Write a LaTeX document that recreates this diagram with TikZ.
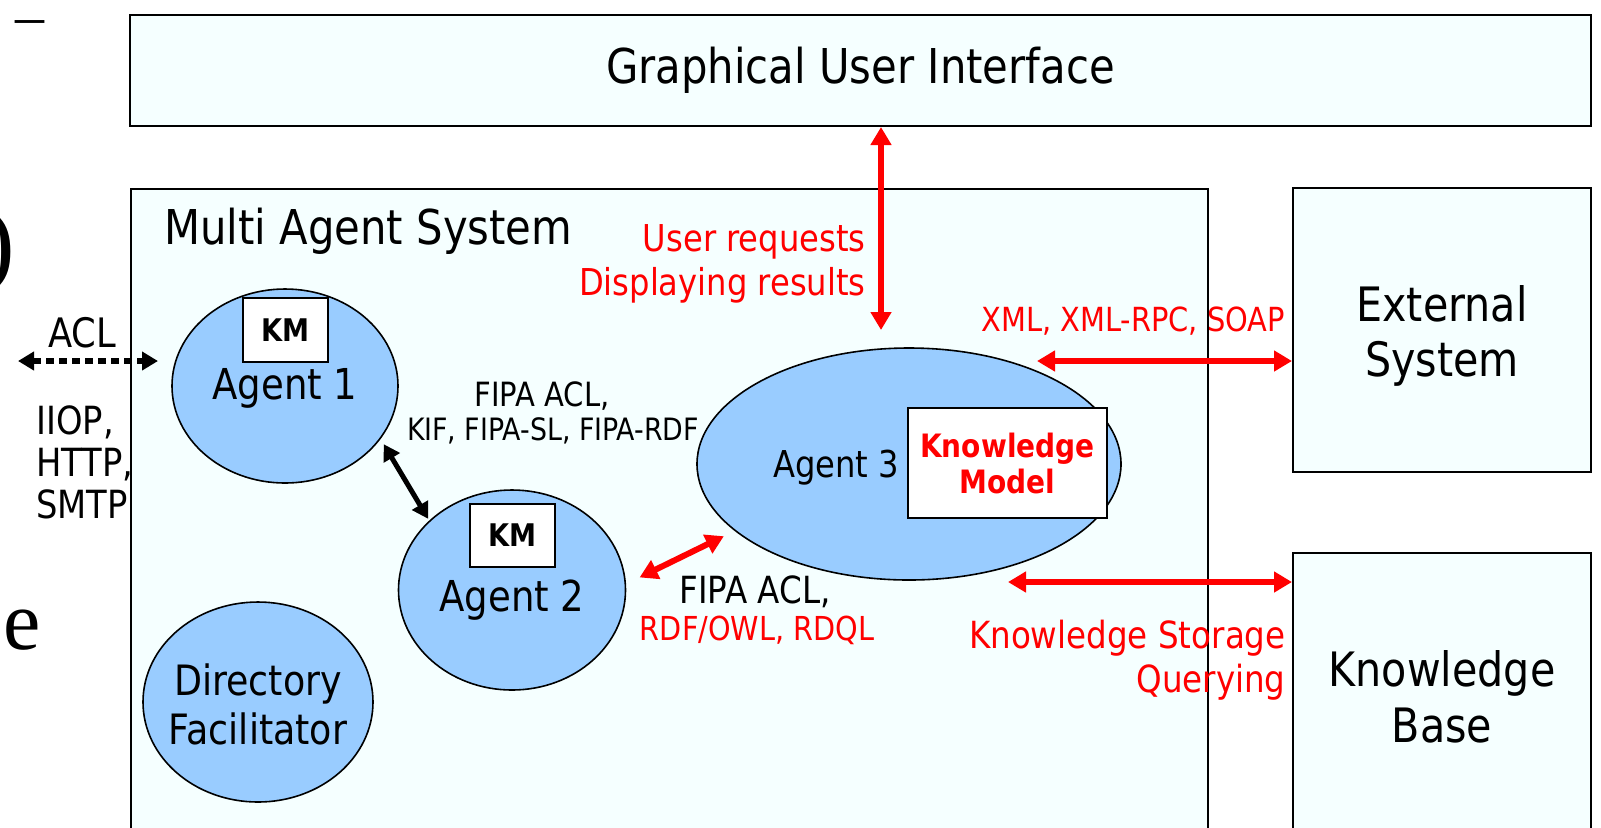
\documentclass[tikz,border=0pt]{standalone}
\usepackage{fontspec}
\setmainfont{DejaVu Sans}[FakeStretch=0.87]
\newfontfamily\serifglyph{Liberation Serif}
\usetikzlibrary{arrows.meta,shapes.geometric,calc}
\definecolor{boxfill}{HTML}{F5FFFF}
\definecolor{agentfill}{HTML}{99CCFF}
\definecolor{myred}{HTML}{FF0000}
\newcommand\fsz[2]{\fontsize{#1}{#2}\selectfont}
\tikzset{
  box/.style={draw=black, line width=1pt, fill=boxfill, inner sep=0pt},
  agent/.style={ellipse, draw=black, line width=0.8pt, fill=agentfill, inner sep=0pt},
  kmbox/.style={draw=black, line width=1pt, fill=white, inner sep=0pt, align=center},
  lbl/.style={inner sep=0pt, align=center},
  redarrow/.style={draw=myred, line width=3pt, {Triangle[length=9pt,width=10pt]}-{Triangle[length=9pt,width=10pt]}},
  blackarrow/.style={draw=black, line width=2.5pt, {Triangle[length=8pt,width=9pt]}-{Triangle[length=8pt,width=9pt]}},
  dotarrow/.style={draw=black, line width=3pt, dash pattern=on 4pt off 2.5pt, {Triangle[length=8pt,width=9pt]}-{Triangle[length=8pt,width=9pt]}}
}
\begin{document}
\begin{tikzpicture}[x=0.5pt,y=-0.5pt]
\useasboundingbox (0,0) rectangle (1601,827);
\fill[white] (0,0) rectangle (1601,827);
\clip (0,0) rectangle (1601,827);

% left cut-off glyphs
\node[lbl, font=\serifglyph\fsz{29}{30}] (gdash) at (30,28) {–};
\node[lbl, anchor=east, font=\serifglyph\fsz{49}{52}] (gparen) at (16,252) {)};
\node[lbl, font=\serifglyph\fsz{42}{46}] (ge) at (22,630) {e};

% boxes
\node[box, minimum width=730.5pt, minimum height=55.5pt, font=\fsz{24}{28}] (gui) at (860.5,70.5) {Graphical User Interface};
\node[box, minimum width=538.5pt, minimum height=330pt, anchor=north west] (mas) at (130,188) {};
\node[lbl, anchor=west, font=\fsz{24}{28}] (maslbl) at (164,231) {Multi Agent System};
\node[box, minimum width=149pt, minimum height=142pt] (ext) at (1442,330) {};
\node[lbl, font=\fsz{23.7}{27.5}] (extlbl) at (1442,336) {External\\System};
\node[box, minimum width=149pt, minimum height=144pt, anchor=north, align=center, font=\fsz{23.7}{28}] (kb) at (1442,552) {Knowledge\\Base};

% agents
\node[agent, minimum width=113pt, minimum height=97pt] (a1) at (285,386) {};
\node[kmbox, minimum width=42.5pt, minimum height=32pt, font=\bfseries\fsz{15.6}{18}] (km1) at (285.5,330) {KM};
\node[lbl, font=\fsz{21.3}{25}] (a1lbl) at (285,388) {Agent 1};

\node[agent, minimum width=113.5pt, minimum height=100pt] (a2) at (512,590) {};
\node[kmbox, minimum width=42.5pt, minimum height=31.5pt, font=\bfseries\fsz{15.6}{18}] (km2) at (512.5,535.5) {KM};
\node[lbl, font=\fsz{21.3}{25}] (a2lbl) at (512,600) {Agent 2};

\node[agent, minimum width=115pt, minimum height=100pt] (df) at (258,702) {};
\node[lbl, font=\fsz{20.9}{24.5}] (dflbl) at (258,704) {Directory\\Facilitator};

\node[agent, minimum width=212pt, minimum height=116pt] (a3) at (909,464) {};
\node[kmbox, minimum width=99.5pt, minimum height=55pt, font=\bfseries\fsz{16.1}{18}, text=myred] (km3) at (1007.5,463) {Knowledge\\Model};
\node[lbl, font=\fsz{18.5}{22}] (a3lbl) at (836,468) {Agent 3};

% labels
\node[lbl, anchor=east, align=right, text=myred, font=\fsz{18.5}{22}] (usr) at (866,264) {User requests\\Displaying results};
\node[lbl, anchor=west, text=myred, font=\fsz{16.6}{20}] (xml) at (981,321) {XML, XML-RPC, SOAP};
\node[lbl, anchor=east, align=right, text=myred, font=\fsz{18.7}{22}] (ks) at (1286,660) {Knowledge Storage\\Querying};
\node[lbl, font=\fsz{16.7}{20}] (fipa1) at (542,396) {FIPA ACL,};
\node[lbl, font=\fsz{15.4}{18}] (kif) at (553,431) {KIF, FIPA-SL, FIPA-RDF};
\node[lbl, font=\fsz{18.7}{22}] (fipa2) at (755,592) {FIPA ACL,};
\node[lbl, text=myred, font=\fsz{16.5}{20}] (rdf) at (757,630) {RDF/OWL, RDQL};
\node[lbl, font=\fsz{20.3}{24}] (acl) at (82,333) {ACL};
\node[lbl, anchor=west, align=left, font=\fsz{19.4}{21}] (proto) at (36,462) {IIOP,\\HTTP,\\SMTP};

% connector end points
\coordinate (guiend) at (881,330);
\coordinate (xmlend) at (1037,361);
\coordinate (ksend) at (1008,582);
\coordinate (aclL) at (18,361);
\coordinate (aclR) at (158,361);

% connectors
\draw[redarrow] (gui.south -| guiend) -- (guiend);
\draw[redarrow] (ext.west |- xmlend) -- (xmlend);
\draw[redarrow] (kb.west |- ksend) -- (ksend);
\draw[redarrow, shorten <=7.5pt, shorten >=6pt] (a2.3.6) -- (a3.201);
\draw[blackarrow, shorten <=3pt, shorten >=1pt] (a1.-29.4) -- (a2.140.5);
\draw[dotarrow] (aclL) -- (aclR);
\end{tikzpicture}
\end{document}
